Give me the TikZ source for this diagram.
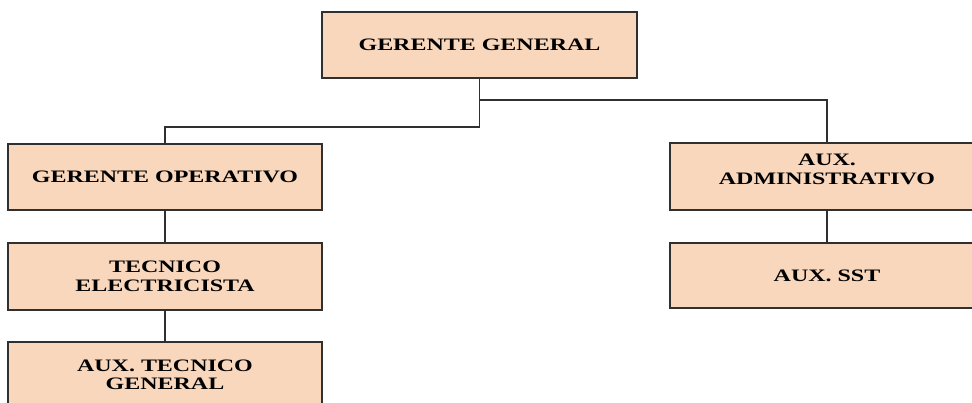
\documentclass[tikz,border=0pt]{standalone}
\usepackage{fontspec}
\newfontfamily\boxfont{Liberation Serif}[FakeStretch=1.37]
\usetikzlibrary{calc}
\definecolor{boxfill}{HTML}{F9D7BC}
\definecolor{boxline}{HTML}{303030}
\tikzset{
  orgbox/.style={draw=boxline, line width=1.4pt, fill=boxfill, rectangle,
    minimum width=314pt, minimum height=66pt, inner sep=0pt, align=center,
    font=\boxfont\bfseries\fontsize{17.5}{18.5}\selectfont, text=black},
  link/.style={draw=boxline, line width=1.3pt}
}
\begin{document}
\begin{tikzpicture}[x=1pt, y=-1pt]
  \path[use as bounding box, clip] (0,0) rectangle (972,403);

  % management
  \node[orgbox, minimum width=315pt] (gg) at (479.5,45) {GERENTE GENERAL};

  % operations branch
  \node[orgbox] (go)  at (165,177)   {GERENTE OPERATIVO};
  \node[orgbox, minimum height=67pt] (te) at (165,276.5) {TECNICO\\ELECTRICISTA};
  \node[orgbox] (atg) at (165,375)   {AUX. TECNICO\\GENERAL};

  % administrative branch
  \node[orgbox, minimum height=67pt, text depth=15pt] (aa) at (827,176.5) {AUX.\\ADMINISTRATIVO};
  \node[orgbox, minimum height=65pt] (sst) at (827,275.5) {AUX. SST};

  % elbow heights of the two branches
  \coordinate (jl) at (0,127);
  \coordinate (jr) at (0,100);

  \draw[link] (gg.south) -- (gg.south |- jl) -| (go.north);
  \draw[link] (gg.south |- jr) -| (aa.north);
  \draw[link] (go.south) -- (te.north);
  \draw[link] (te.south) -- (atg.north);
  \draw[link] (aa.south) -- (sst.north);
\end{tikzpicture}
\end{document}
